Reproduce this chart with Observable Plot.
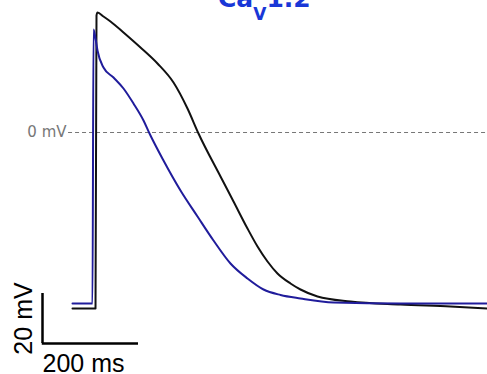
<!DOCTYPE html>
<html><head><meta charset="utf-8">
<script src="https://cdn.jsdelivr.net/npm/d3@7"></script>
<script src="https://cdn.jsdelivr.net/npm/@observablehq/plot@0.6"></script>
<style>
html,body{margin:0;padding:0;background:#fff;overflow:hidden}
#wrap{position:relative;width:487px;height:374px}
#title{position:absolute;z-index:2;left:218px;top:-14px;font:bold 25px "DejaVu Sans";line-height:25px;color:rgb(25,55,215);white-space:nowrap}
#title span{font-size:17px;position:relative;top:13px}
</style></head><body>
<div id="wrap"><div id="title">Ca<span>V</span>1.2</div></div>
<script>
// Time (ms, 0 = stimulus) and membrane potential (mV)
const controlT = [-43.75, 4.2, 6.25, 8.3, 20.8, 35.4, 62.5, 97.9, 133.3, 166.7, 195.8, 218.75, 264.6, 291.7, 320.8, 341.7, 362.5, 383.3, 410.4, 431.25, 466.7, 535.4, 639.6, 743.75, 820.8];
const controlV = [-70.4, -70.4, 46.8, 48, 46.4, 44.4, 40, 34, 27.6, 20, 9.6, -0.4, -17.6, -27.6, -38.4, -45.6, -51.6, -56.4, -60.4, -62.8, -65.6, -67.6, -68.8, -69.6, -70.4];
const cavT = [-43.75, -2.1, 0, 4.2, 8.3, 20.8, 41.7, 62.5, 83.3, 104.2, 116.7, 145.8, 181.25, 216.7, 250, 285.4, 320.8, 354.2, 389.6, 431.25, 500, 639.6, 820.8];
const cavV = [-68.4, -68.4, 41.2, 37.6, 32.8, 26, 22, 17.6, 11.6, 4.8, -0.4, -11.2, -23.2, -33.6, -43.2, -52.4, -58.4, -62.8, -65, -66.4, -68, -68.4, -68.4];
const zeroLabel = "0 mV";
const barMs = 200, barMv = 20;
const barLabels = ["200 ms", "20 mV"];

const control = controlT.map((t, i) => ({t, v: controlV[i]}));
const cav = cavT.map((t, i) => ({t, v: cavV[i]}));
const bar0 = {t: -106.25, v: -84.4};
const dashStart = -52;

const plot = Plot.plot({
  width: 487, height: 374, margin: 0,
  x: {domain: [-193.75, 820.83], axis: null},
  y: {domain: [-96.8, 52.8], axis: null},
  style: {background: "white", overflow: "visible"},
  marks: [
    Plot.ruleY([0], {x1: dashStart, x2: 820.83, stroke: "#777", strokeWidth: 1.2, strokeDasharray: "4,3"}),
    Plot.text([zeroLabel], {x: dashStart, y: 0, dx: -2, textAnchor: "end", lineAnchor: "middle", fill: "#777", fontSize: 15, fontFamily: "DejaVu Sans"}),
    Plot.line(control, {x: "t", y: "v", stroke: "#111", strokeWidth: 2, curve: "monotone-x"}),
    Plot.line(cav, {x: "t", y: "v", stroke: "rgb(32,28,155)", strokeWidth: 2, curve: "monotone-x"}),
    Plot.ruleX([bar0.t], {y1: bar0.v, y2: bar0.v + barMv, stroke: "#000", strokeWidth: 2.5}),
    Plot.ruleY([bar0.v], {x1: bar0.t - 0.5, x2: bar0.t + barMs, stroke: "#000", strokeWidth: 2.5}),
    Plot.text([barLabels[0]], {x: bar0.t, y: bar0.v, dy: 28, textAnchor: "start", lineAnchor: "bottom", fill: "#000", fontSize: 25, fontFamily: "Liberation Sans"}),
    Plot.text([barLabels[1]], {x: bar0.t, y: bar0.v + barMv / 2, dx: -11, rotate: -90, textAnchor: "middle", lineAnchor: "bottom", fill: "#000", fontSize: 25, fontFamily: "Liberation Sans"})
  ]
});
document.getElementById("wrap").appendChild(plot);
</script>
</body></html>
